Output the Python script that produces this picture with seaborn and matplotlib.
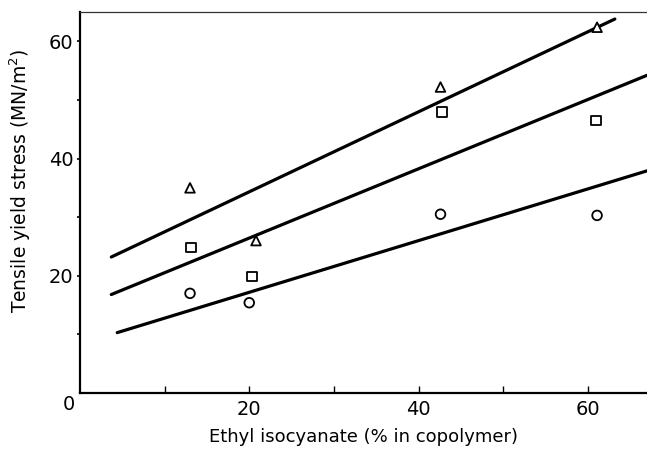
import numpy as np
import pandas as pd
import matplotlib
matplotlib.use("Agg")
import matplotlib.pyplot as plt
import seaborn as sns

# ---- data ----
tri_x = [13.0, 20.8, 42.6, 61.1]
tri_y = [35.0, 26.0, 52.2, 62.4]
sq_x = [13.1, 20.3, 42.8, 61.0]
sq_y = [24.8, 19.9, 47.9, 46.5]
circ_x = [13.0, 20.0, 42.6, 61.1]
circ_y = [17.0, 15.4, 30.5, 30.3]

# fitted lines (end points)
top_line_x = [3.7, 63.2]
top_line_y = [23.2, 63.8]
mid_line_x = [3.7, 67.0]
mid_line_y = [16.8, 54.2]
low_line_x = [4.4, 67.0]
low_line_y = [10.3, 37.9]

x_major = [20, 40, 60]
x_minor = [10, 30, 50]
y_major = [20, 40, 60]
y_minor = [10, 30, 50]

xlabel = "Ethyl isocyanate (% in copolymer)"
ylabel = "Tensile yield stress (MN/m$^2$)"

pts = pd.DataFrame({
    "x": tri_x + sq_x + circ_x,
    "y": tri_y + sq_y + circ_y,
    "series": ["tri"] * len(tri_x) + ["sq"] * len(sq_x) + ["circ"] * len(circ_x),
})
lines = pd.DataFrame({
    "x": top_line_x + mid_line_x + low_line_x,
    "y": top_line_y + mid_line_y + low_line_y,
    "series": ["tri"] * 2 + ["sq"] * 2 + ["circ"] * 2,
})

sns.set_style("ticks")
plt.rcParams["font.family"] = ["DejaVu Sans"]
plt.rcParams["text.color"] = "black"
plt.rcParams["axes.labelcolor"] = "black"

fig = plt.figure(figsize=(6.47, 4.51), dpi=100)
ax = fig.add_axes([80 / 647, 1 - 393 / 451, 1 - 80 / 647, (393 - 12) / 451])

sns.lineplot(data=lines, x="x", y="y", units="series", estimator=None,
             color="black", lw=2.3, ax=ax, legend=False)
sns.scatterplot(data=pts, x="x", y="y", style="series",
                markers={"tri": "^", "sq": "s", "circ": "o"},
                s=48, facecolor="white", edgecolor="black", linewidth=1.3,
                color="black", ax=ax, legend=False, zorder=5)
# open markers
for coll in ax.collections:
    coll.set_facecolor("white")
    coll.set_edgecolor("black")

ax.set_xlim(0, 67)
ax.set_ylim(0, 65)

ax.set_xticks(x_major)
ax.set_xticks(x_minor, minor=True)
ax.set_yticks(y_major)
ax.set_yticks(y_minor, minor=True)
ax.tick_params(axis="x", which="both", direction="in", length=5, width=1.0,
               labelsize=14, pad=5, colors="black")
ax.tick_params(axis="y", which="both", direction="out", length=2.5, width=1.2,
               labelsize=14, pad=2, colors="black")
ax.tick_params(axis="x", which="minor", labelbottom=False)

ax.spines["left"].set_linewidth(1.6)
ax.spines["bottom"].set_linewidth(1.6)
ax.spines["top"].set_linewidth(0.9)
ax.spines["top"].set_color("#333333")
ax.spines["right"].set_visible(False)
for s in ["left", "bottom"]:
    ax.spines[s].set_color("black")

ax.set_xlabel(xlabel, fontsize=13, color="black")
ax.set_ylabel(ylabel, fontsize=13.5, color="black")
ax.xaxis.set_label_coords(0.5, -0.092)
ax.yaxis.set_label_coords(-0.083, 0.556)

fig.text(68.5 / 647, 1 - 404 / 451, "0", ha="center", va="center", fontsize=14,
         color="black")

fig.savefig("out.png", dpi=100)
